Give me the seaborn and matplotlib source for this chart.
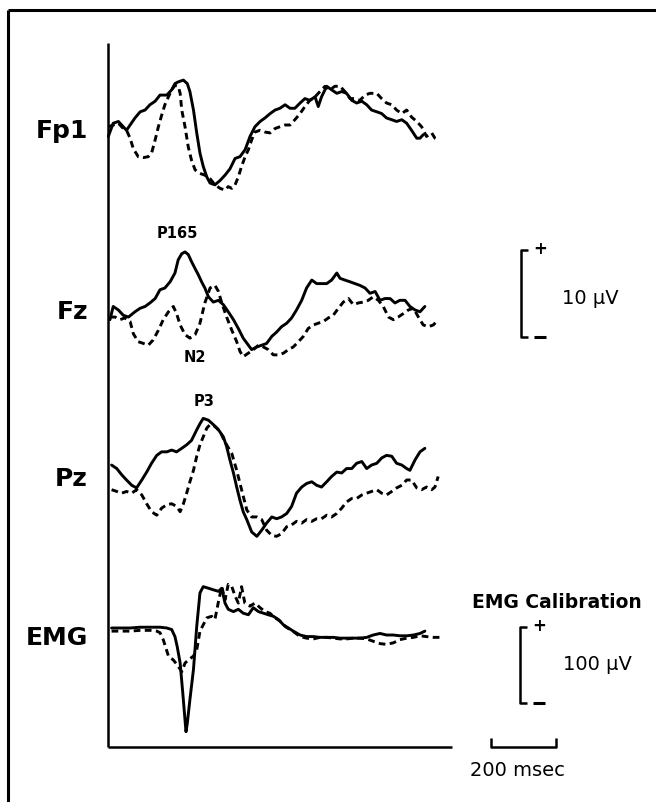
import numpy as np
import pandas as pd
import matplotlib
matplotlib.use("Agg")
import matplotlib.pyplot as plt
import seaborn as sns

# ---------------- data (time in ms, amplitude in microvolts) ----------------
FP1_SOLID_T = [1,16,32,47,57,68,83,99,114,129,145,160,181,196,206,216,232,244,252,263,
               273,283,293,304,314,329,345,360,375,391,406,422,437,452,468,483,499,514,529,545,
               560,575,591,606,621,637,647,657,673,688,704,719,734,750,765,781,796,811,827,842,
               857,873,888,904,919,934,950,960,970]
FP1_SOLID_V = [-1.3,0.2,0.4,-0.2,-0.6,0.0,0.8,1.5,1.7,2.3,2.7,3.4,3.4,4.0,4.7,4.9,5.1,4.7,3.8,1.7,
               -0.9,-3.2,-4.7,-5.9,-6.6,-6.8,-6.3,-5.7,-5.0,-3.8,-3.6,-2.8,-1.3,-0.2,0.4,0.8,1.3,1.7,1.9,2.3,
               1.9,1.9,2.5,3.0,2.8,3.2,2.1,3.2,4.4,4.0,3.6,3.8,3.6,2.8,2.5,2.7,2.3,1.7,1.5,1.3,
               0.8,0.6,0.4,0.6,0.2,-0.6,-1.5,-1.5,-1.1]

FP1_DASH_T = [1,16,32,47,57,68,78,93,109,124,134,145,155,165,175,186,196,206,216,222,
              227,237,247,257,268,283,298,314,329,345,360,370,381,391,401,411,422,432,442,452,
              468,483,499,514,529,545,560,575,591,606,621,637,652,668,683,698,714,729,745,760,
              775,791,806,827,842,857,873,888,904,919,934,950,965,980,996,1006,1016]
FP1_DASH_V = [-0.2,0.0,0.2,-0.4,-0.6,-1.5,-2.7,-3.6,-3.7,-3.6,-3.2,-1.7,-0.2,1.1,2.3,3.2,4.0,4.5,4.4,3.6,
              1.7,-0.2,-2.5,-4.0,-5.1,-5.5,-5.7,-6.1,-6.8,-7.2,-7.4,-7.0,-7.2,-6.8,-5.9,-4.7,-3.6,-2.8,-1.7,-0.8,
              -0.6,-0.8,-0.9,-0.4,-0.2,0.0,0.0,0.6,1.3,2.1,2.8,3.2,3.8,4.4,4.0,4.4,4.4,3.8,3.0,3.0,
              2.8,3.4,3.6,3.6,3.0,2.5,2.3,1.7,1.3,1.7,0.9,0.4,-0.2,-1.3,-0.9,-1.5,-1.7]

FZ_SOLID_T = [6,16,32,47,63,83,99,114,129,145,160,175,191,206,216,227,237,247,257,268,
              278,288,298,309,324,340,355,370,386,401,416,432,442,458,473,488,504,519,534,550,
              565,580,596,611,627,642,657,673,688,704,714,729,745,760,775,791,806,822,837,852,
              868,883,898,914,929,945,960,975]
FZ_SOLID_V = [-1.1,0.4,0.0,-0.6,-0.8,-0.2,0.2,0.4,0.8,1.3,2.3,2.5,3.2,4.2,5.7,6.4,6.6,6.3,5.5,4.7,
              4.0,3.2,2.5,1.5,0.9,1.1,0.6,-0.2,-1.1,-2.1,-3.2,-4.0,-4.5,-4.2,-4.0,-3.8,-3.0,-2.5,-1.9,-1.5,
              -0.9,0.0,1.1,2.5,3.4,3.0,3.0,3.0,3.4,4.2,3.6,3.4,3.2,3.0,2.8,2.5,1.9,2.1,1.1,1.3,
              1.3,0.8,1.1,1.1,0.4,0.0,-0.2,0.4]

FZ_DASH_T = [6,22,37,52,68,78,93,109,124,139,155,170,186,201,211,222,237,252,268,283,
             298,314,329,340,350,365,381,396,406,416,432,447,463,478,493,509,524,540,555,570,
             586,601,616,632,647,663,678,693,709,724,740,755,770,786,801,816,832,847,863,878,
             893,909,924,940,955,970,986,1001,1011]
FZ_DASH_V = [-0.8,-0.8,-1.1,-0.9,-1.3,-2.7,-3.6,-3.8,-4.0,-3.4,-2.3,-1.1,-0.2,0.4,-0.4,-1.7,-2.8,-3.2,-2.8,-1.5,
             0.8,2.5,2.8,2.1,0.8,-0.8,-2.3,-3.6,-4.7,-5.3,-4.9,-4.5,-4.0,-4.2,-4.5,-5.1,-5.1,-4.9,-4.5,-4.2,
             -3.6,-3.0,-2.1,-1.7,-1.5,-1.3,-0.9,-0.6,0.2,0.9,1.3,0.6,0.8,0.9,1.1,1.5,1.1,0.4,-0.8,-1.1,
             -0.8,-0.4,0.0,0.2,-0.8,-1.7,-1.9,-1.7,-1.3]

PZ_SOLID_T = [11,27,42,57,73,88,104,119,134,150,165,181,196,211,227,242,257,273,283,293,
              309,324,340,355,365,375,386,396,406,416,427,442,458,473,488,504,519,534,550,565,
              580,596,611,627,642,657,673,688,704,719,734,750,765,781,796,811,827,842,857,873,
              888,904,919,929,945,960,975]
PZ_SOLID_V = [1.7,1.3,0.6,0.0,-0.6,-0.9,0.0,0.9,1.9,2.8,3.2,3.2,3.4,3.2,3.6,4.0,4.5,5.7,6.4,7.0,
              6.8,6.3,5.7,4.9,3.8,2.3,0.8,-0.8,-2.3,-3.6,-4.5,-5.9,-6.4,-5.7,-4.9,-4.2,-4.4,-4.2,-3.8,-3.0,
              -1.5,-0.8,-0.4,-0.2,-0.6,-0.8,-0.2,0.4,0.9,0.8,1.3,1.3,1.9,2.1,1.3,1.7,1.9,2.5,2.8,2.7,
              1.9,1.7,1.3,1.1,2.3,3.2,3.6]

PZ_DASH_T = [11,27,42,57,73,88,104,119,134,150,165,181,196,211,222,232,242,252,263,273,
             283,293,304,314,329,345,355,365,381,396,411,427,442,458,473,488,504,519,534,550,
             565,580,596,611,627,642,657,673,688,704,719,734,750,765,781,796,811,827,842,857,
             873,888,904,919,934,950,965,980,996,1006,1016]
PZ_DASH_V = [-1.1,-1.3,-1.5,-1.3,-1.5,-1.1,-1.7,-2.7,-3.6,-4.0,-3.2,-2.8,-2.7,-3.0,-3.6,-2.7,-1.5,-0.2,1.1,2.7,
             4.0,4.9,5.9,6.3,6.1,5.5,4.7,4.0,3.0,1.1,-1.1,-3.4,-4.2,-4.2,-4.5,-5.7,-6.3,-6.4,-6.1,-5.3,
             -5.1,-4.7,-4.9,-4.5,-4.7,-4.4,-4.4,-4.0,-4.2,-3.8,-3.2,-2.5,-2.1,-2.1,-1.7,-1.5,-1.3,-1.1,-1.5,-1.7,
             -1.3,-0.9,-0.6,0.0,0.0,-0.9,-1.1,-0.8,-1.1,-0.8,0.4]

EMG_SOLID_T = [11,37,68,99,129,160,181,196,206,213,222,230,237,240,244,252,263,273,283,293,
               309,324,340,350,360,370,386,401,416,432,447,463,478,493,509,524,540,555,570,591,
               611,632,652,673,693,714,734,755,775,796,816,837,857,878,898,919,940,960,975]
EMG_SOLID_V = [0,0,0,1,1,1,0,-2,-11,-24,-45,-83,-118,-133,-122,-92,-53,2,45,53,
               51,49,47,51,32,24,21,24,19,17,26,21,19,17,15,11,4,0,-4,-9,
               -11,-11,-12,-12,-12,-13,-13,-13,-13,-12,-9,-7,-9,-9,-10,-10,-9,-7,-4]

EMG_DASH_T = [11,37,68,99,129,150,160,170,186,201,216,227,237,247,263,273,283,293,304,319,
              329,340,350,360,370,381,391,401,411,421,437,452,468,483,498,514,529,545,560,575,
              591,611,632,652,673,693,714,734,755,775,796,816,837,857,878,898,919,940,960,980,
              1001,1021]
EMG_DASH_V = [-4,-4,-4,-3,-3,-4,-6,-15,-36,-41,-49,-56,-45,-41,-36,-28,-4,4,13,15,
              11,34,53,36,56,53,41,32,53,32,28,32,26,21,19,13,9,2,-2,-6,
              -11,-13,-14,-12,-12,-13,-14,-14,-13,-13,-14,-17,-20,-21,-19,-15,-13,-12,-10,-11,
              -12,-12]

CHANNELS = ["Fp1", "Fz", "Pz", "EMG"]
TRACES = {
    ("Fp1", "solid"): (FP1_SOLID_T, FP1_SOLID_V),
    ("Fp1", "dashed"): (FP1_DASH_T, FP1_DASH_V),
    ("Fz", "solid"): (FZ_SOLID_T, FZ_SOLID_V),
    ("Fz", "dashed"): (FZ_DASH_T, FZ_DASH_V),
    ("Pz", "solid"): (PZ_SOLID_T, PZ_SOLID_V),
    ("Pz", "dashed"): (PZ_DASH_T, PZ_DASH_V),
    ("EMG", "solid"): (EMG_SOLID_T, EMG_SOLID_V),
    ("EMG", "dashed"): (EMG_DASH_T, EMG_DASH_V),
}

# ---------------- layout / styling ----------------
W, H = 656, 802
T0_PX = 108          # pixel x of time zero
PX_PER_MS = 0.325    # 200 ms = 65 px
BASELINE_PX = {"Fp1": 125, "Fz": 310, "Pz": 480, "EMG": 628}
PX_PER_UV = {"Fp1": 8.8, "Fz": 8.8, "Pz": 8.8, "EMG": 0.78}

sns.set_theme(style="white")
plt.rcParams["font.family"] = ["DejaVu Sans"]
plt.rcParams["text.color"] = "black"

fig = plt.figure(figsize=(W / 100, H / 100), dpi=100)
fig.patch.set_facecolor("white")

# data axes: x in ms, y in "pixels upward"
ax = fig.add_axes([0, 0, 1, 1])
ax.set_xlim((0 - T0_PX) / PX_PER_MS, (W - T0_PX) / PX_PER_MS)
ax.set_ylim(-H, 0)
ax.axis("off")

rows = []
for (ch, cond), (ts, vs) in TRACES.items():
    assert len(ts) == len(vs), (ch, cond, len(ts), len(vs))
    for t, v in zip(ts, vs):
        rows.append({"t": t, "y": -BASELINE_PX[ch] + v * PX_PER_UV[ch],
                     "trace": f"{ch}-{cond}", "cond": cond})
df = pd.DataFrame(rows)

sns.lineplot(data=df, x="t", y="y", units="trace", style="cond", estimator=None,
             sort=False, color="black", linewidth=2.1, legend=False,
             dashes={"solid": "", "dashed": (2.3, 1.5)}, ax=ax)

# overlay axes in pixel coordinates for decorations
ov = fig.add_axes([0, 0, 1, 1], facecolor="none")
ov.set_xlim(0, W)
ov.set_ylim(H, 0)
ov.axis("off")

k = dict(color="black", solid_capstyle="butt")
# outer frame (top and left)
ov.plot([8, W], [10, 10], lw=2.2, **k)
ov.plot([8, 8], [10, H], lw=2.2, **k)
# trace axes
ov.plot([108, 108], [43, 747], lw=1.8, **k)
ov.plot([108, 452], [747, 747], lw=1.8, **k)

tk = dict(color="black")
# channel labels
for ch, y in zip(CHANNELS, [131, 312, 479, 638]):
    ov.text(88, y, ch, ha="right", va="center", fontsize=18, fontweight="bold", **tk)

# component labels
ov.text(177, 233, "P165", ha="center", va="center", fontsize=10.5, fontweight="bold", **tk)
ov.text(195, 358, "N2", ha="center", va="center", fontsize=10.5, fontweight="bold", **tk)
ov.text(204, 401, "P3", ha="center", va="center", fontsize=10.5, fontweight="bold", **tk)

# calibration brackets
def bracket(x, y0, y1):
    ov.plot([x + 7, x, x, x + 7], [y0, y0, y1, y1], lw=1.8, **k)
    ov.text(x + 19, y0 - 1, "+", ha="center", va="center", fontsize=12, fontweight="bold", **tk)
    ov.plot([x + 13, x + 25], [y1, y1], lw=2.2, **k)

bracket(521, 250, 337)
ov.text(562, 298, "10 \u00b5V", ha="left", va="center", fontsize=14, **tk)

ov.text(557, 602, "EMG Calibration", ha="center", va="center", fontsize=13.5, fontweight="bold", **tk)
bracket(520, 627, 703)
ov.text(563, 664, "100 \u00b5V", ha="left", va="center", fontsize=14, **tk)

# time bar
ov.plot([491, 491, 556, 556], [738, 747, 747, 738], lw=1.8, **k)
ov.text(517, 770, "200 msec", ha="center", va="center", fontsize=14, **tk)

fig.savefig("out.png", dpi=100, facecolor="white")
